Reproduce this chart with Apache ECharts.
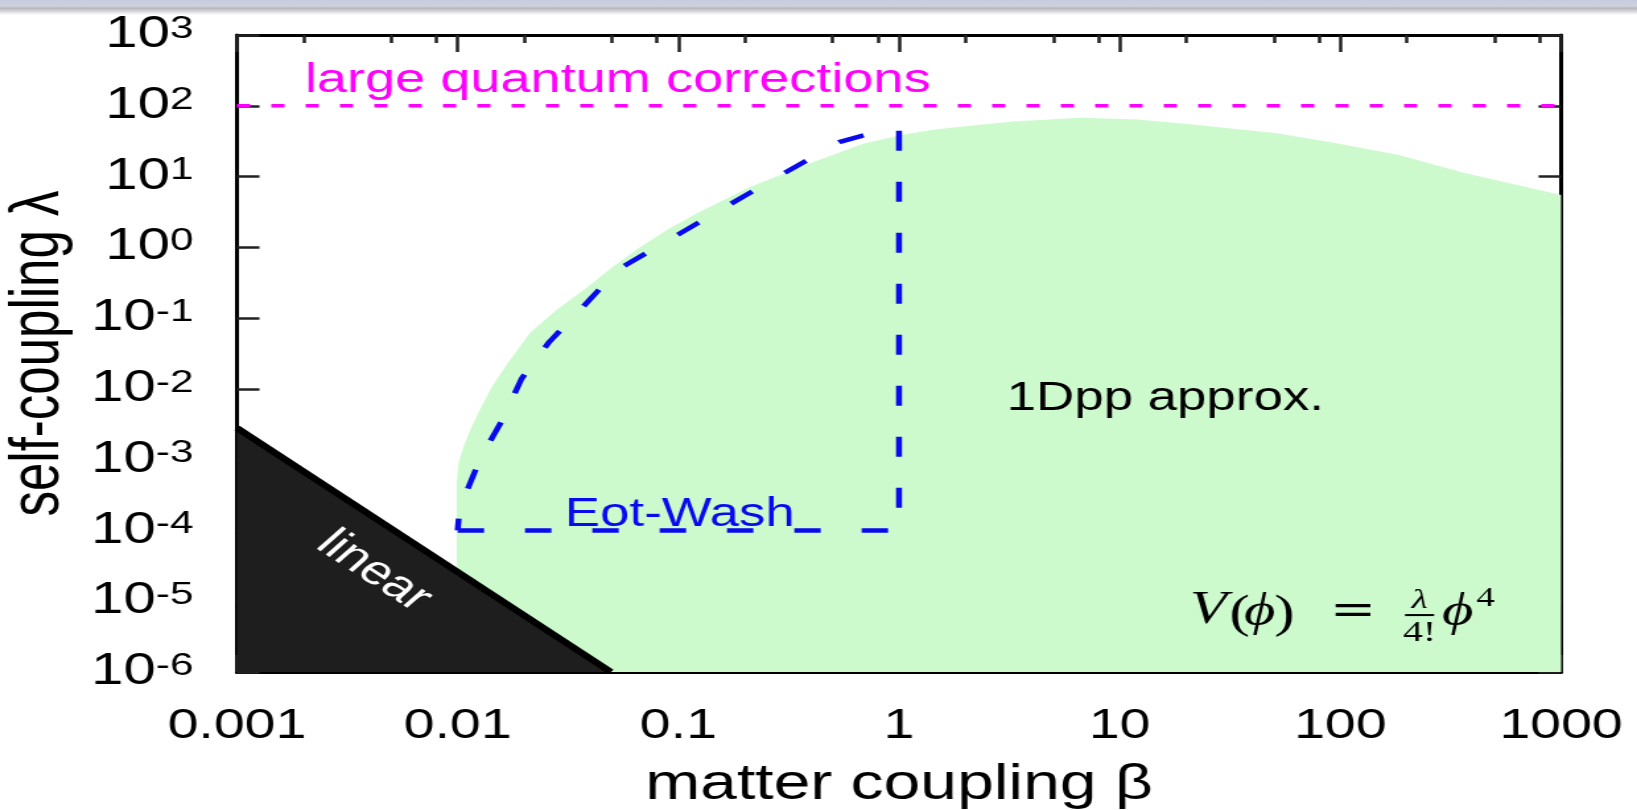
<!DOCTYPE html>
<html>
<head>
<meta charset="utf-8">
<title>matter coupling vs self-coupling</title>
<script src="https://cdn.jsdelivr.net/npm/echarts@6/dist/echarts.min.js"></script>
<style>
html,body{margin:0;padding:0;background:#fff;overflow:hidden;}
/* the reference is stretched sideways, so draw narrow and stretch */
#main{width:1240px;height:810px;transform:scaleX(1.3202);transform-origin:0 0;}
</style>
</head>
<body>
<div id="main"></div>
<script>
// ticks
var xTickValues = [0.001, 0.01, 0.1, 1, 10, 100, 1000];
var xTickLabels = ['0.001', '0.01', '0.1', '1', '10', '100', '1000'];
var xMinorTicks = [0.002, 0.005, 0.008, 0.02, 0.05, 0.08, 0.2, 0.5, 0.8, 2, 5, 8, 20, 50, 80, 200, 500, 800];
var yTickValues = [1e-6, 1e-5, 1e-4, 1e-3, 1e-2, 1e-1, 1, 10, 100, 1000];
var yTickExps = ['-6', '-5', '-4', '-3', '-2', '-1', '0', '1', '2', '3'];

// 1Dpp region, upper edge (filled down to the bottom)
var greenBeta = [0.0099, 0.0101, 0.0106, 0.0115, 0.0125, 0.0143, 0.017, 0.0213, 0.028, 0.0386, 0.05, 0.067, 0.09, 0.121, 0.211, 0.41, 0.69, 1.0, 1.38, 1.85, 3.3, 6.7, 12, 20.8, 51.5, 96, 186, 355, 611, 1000];
var greenLambda = [5e-4, 9e-4, 0.0015, 0.0028, 0.0048, 0.0107, 0.024, 0.062, 0.13, 0.27, 0.52, 1.0, 1.8, 3.0, 7.1, 16, 29, 38, 45, 50, 60, 68, 64, 55, 41, 29.5, 20, 11.5, 7.8, 5.5];

// linear regime
var linearBeta = [0.001, 0.0495];
var linearLambda = [2.8e-3, 1e-6];

// Eot-Wash bound (closed path)
var eotBeta = [0.01, 1, 1, 0.8, 0.54, 0.49, 0.28, 0.163, 0.095, 0.053, 0.035, 0.026, 0.0195, 0.0159, 0.0126, 0.0114, 0.0102, 0.01];
var eotLambda = [1e-4, 1e-4, 49, 43, 31, 26, 9.8, 3.7, 1.39, 0.48, 0.12, 0.046, 0.014, 0.0036, 0.001, 4.7e-4, 2e-4, 1e-4];

// large quantum corrections
var quantumBeta = [0.001, 1000];
var quantumLambda = [100, 100];

var FONT = '"Liberation Sans", Arial, Helvetica, sans-serif';
var SERIF = '"Liberation Serif", "DejaVu Serif", serif';

function pairs(xs, ys) {
	return xs.map(function (x, i) { return [x, ys[i]]; });
}
function tickIndex(list, v) {
	for (var i = 0; i < list.length; i++) {
		if (Math.abs(Math.log10(list[i] / v)) < 1e-6) return i;
	}
	return -1;
}

var chart = echarts.init(document.getElementById('main'));

var plainAxis = {
	type: 'log', logBase: 10,
	axisLine: {show: true, onZero: false, lineStyle: {color: '#000', width: 3}},
	axisLabel: {show: false},
	splitLine: {show: false}
};

var option = {
	backgroundColor: '#fff',
	animation: false,
	grid: {left: 179.5, right: 57.6, top: 35, bottom: 138, containLabel: false, outerBoundsMode: 'none'},
	xAxis: [
		{
			type: 'log', logBase: 10, min: 0.001, max: 1000, position: 'bottom',
			axisLine: {show: true, onZero: false, lineStyle: {color: '#000', width: 3}},
			axisTick: {show: true, inside: true, length: 17, customValues: xTickValues, lineStyle: {color: '#222', width: 2.5}},
			axisLabel: {
				show: true, margin: 33, customValues: xTickValues,
				fontFamily: FONT, fontSize: 42, color: '#000',
				formatter: function (v) { return xTickLabels[tickIndex(xTickValues, v)]; }
			},
			splitLine: {show: false},
			name: 'matter coupling β', nameLocation: 'middle', nameGap: 88,
			nameTextStyle: {fontFamily: FONT, fontSize: 50, color: '#000'}
		},
		echarts.util.merge({min: 0.001, max: 1000, position: 'top',
			axisTick: {show: true, inside: true, length: 17, customValues: xTickValues, lineStyle: {color: '#222', width: 2.5}}}, plainAxis),
		echarts.util.merge({min: 0.001, max: 1000, position: 'bottom', axisLine: {show: false},
			axisTick: {show: true, inside: true, length: 8, customValues: xMinorTicks, lineStyle: {color: '#222', width: 2.5}}}, plainAxis),
		echarts.util.merge({min: 0.001, max: 1000, position: 'top', axisLine: {show: false},
			axisTick: {show: true, inside: true, length: 8, customValues: xMinorTicks, lineStyle: {color: '#222', width: 2.5}}}, plainAxis)
	],
	yAxis: [
		{
			type: 'log', logBase: 10, min: 1e-6, max: 1000, position: 'left',
			axisLine: {show: true, onZero: false, lineStyle: {color: '#000', width: 3}},
			axisTick: {show: true, inside: true, length: 17, customValues: yTickValues, lineStyle: {color: '#222', width: 2.5}},
			axisLabel: {
				show: true, margin: 33, customValues: yTickValues,
				fontFamily: FONT, fontSize: 44, color: '#000',
				formatter: function (v) { return '{b|10}{s|' + yTickExps[tickIndex(yTickValues, v)] + '}'; },
				rich: {
					b: {fontFamily: FONT, fontSize: 44, lineHeight: 44, color: '#000'},
					s: {fontFamily: FONT, fontSize: 32, lineHeight: 6, verticalAlign: 'top', color: '#000'}
				}
			},
			splitLine: {show: false},
			name: 'self-coupling λ', nameLocation: 'middle', nameRotate: 90, nameGap: 124,
			nameTextStyle: {fontFamily: FONT, fontSize: 51, color: '#000'}
		},
		echarts.util.merge({min: 1e-6, max: 1000, position: 'right',
			axisTick: {show: true, inside: true, length: 17, customValues: yTickValues, lineStyle: {color: '#222', width: 2.5}}}, plainAxis)
	],
	series: [
		{
			name: '1Dpp approx.', type: 'line', data: pairs(greenBeta, greenLambda),
			symbol: 'none', silent: true, z: 1,
			lineStyle: {width: 0, color: '#cdfacd'},
			areaStyle: {color: '#cdfacd', opacity: 1, origin: 'start'}
		},
		{
			name: 'linear', type: 'line', data: pairs(linearBeta, linearLambda),
			symbol: 'none', silent: true, z: 2,
			lineStyle: {width: 6, color: '#000'},
			areaStyle: {color: '#1e1e1e', opacity: 1, origin: 'start'}
		},
		{
			name: 'Eot-Wash', type: 'line', data: pairs(eotBeta, eotLambda),
			symbol: 'none', silent: true, z: 3,
			lineStyle: {width: 4.5, color: '#0a0aef', type: [20, 31]}
		},
		{
			name: 'large quantum corrections', type: 'line', data: pairs(quantumBeta, quantumLambda),
			symbol: 'none', silent: true, z: 3,
			lineStyle: {width: 3.5, color: '#ff00ff', type: [10, 16]}
		}
	]
};
chart.setOption(option);

// text notes placed in data coordinates
function px(b, l) {
	return chart.convertToPixel({xAxisIndex: 0, yAxisIndex: 0}, [b, l]);
}
var pQ = px(0.00203, 228);
var pD = px(3.08, 0.0072);
var pE = px(0.0306, 1.65e-4);
var pL = px(0.00418, 2.67e-5);
var l0 = px(linearBeta[0], linearLambda[0]);
var l1 = px(linearBeta[1], linearLambda[1]);
var pV = px(20.8, 6.8e-6);

function txt(x, y, text, style, extra) {
	var el = {
		type: 'text', x: x, y: y, z: 20, silent: true,
		style: {text: text, fill: '#000', fontFamily: FONT, fontSize: 40, align: 'left', verticalAlign: 'middle'}
	};
	for (var k in style) el.style[k] = style[k];
	for (var e in (extra || {})) el[e] = extra[e];
	return el;
}

var notes = [
	{
		type: 'rect', left: 0, top: 0, z: 30, silent: true,
		shape: {width: 1240, height: 15},
		style: {fill: new echarts.graphic.LinearGradient(0, 0, 0, 1, [
			{offset: 0, color: '#c6cbde'},
			{offset: 0.4, color: '#cfd2de'},
			{offset: 0.55, color: '#b8b8bc'},
			{offset: 1, color: '#ffffff'}
		])}
	},
	txt(pQ[0], pQ[1], 'large quantum corrections', {fill: '#ff00ff', fontSize: 41}),
	txt(pD[0], pD[1], '1Dpp approx.', {}),
	txt(pE[0], pE[1], 'Eot-Wash', {fill: '#0a0aef'}),
	txt(pL[0], pL[1], 'linear', {fill: '#fff', fontSize: 41, align: 'center'},
		{rotation: -Math.atan2(l1[1] - l0[1], l1[0] - l0[0])}),
	// V(phi) = lambda/4! phi^4
	txt(pV[0], pV[1] - 2, 'V', {fontFamily: SERIF, fontStyle: 'italic', fontSize: 46}),
	txt(pV[0] + 30, pV[1] + 2, '(', {fontFamily: SERIF, fontSize: 46}),
	txt(pV[0] + 41, pV[1], 'ϕ', {fontFamily: SERIF, fontStyle: 'italic', fontSize: 46}),
	txt(pV[0] + 64, pV[1] + 2, ')', {fontFamily: SERIF, fontSize: 46}),
	txt(pV[0] + 106, pV[1], '=', {fontFamily: '"DejaVu Serif", serif', fontSize: 42}),
	txt(pV[0] + 174, pV[1] - 12, 'λ', {fontFamily: SERIF, fontStyle: 'italic', fontSize: 28, align: 'center'}),
	{type: 'line', z: 20, silent: true, shape: {x1: pV[0] + 163, y1: pV[1] + 2, x2: pV[0] + 185, y2: pV[1] + 2}, style: {stroke: '#000', lineWidth: 2}},
	txt(pV[0] + 174, pV[1] + 20, '4!', {fontFamily: SERIF, fontSize: 30, align: 'center'}),
	txt(pV[0] + 191, pV[1], 'ϕ', {fontFamily: SERIF, fontStyle: 'italic', fontSize: 46}),
	txt(pV[0] + 217, pV[1] - 14, '4', {fontFamily: SERIF, fontSize: 28})
];

chart.setOption({graphic: notes});
</script>
</body>
</html>
